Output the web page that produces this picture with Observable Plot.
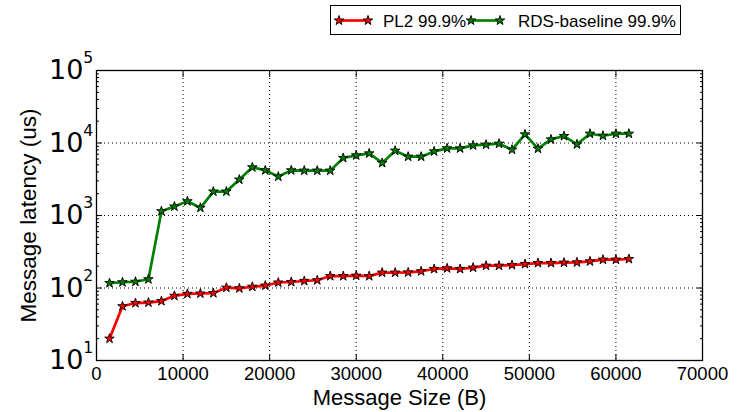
<!DOCTYPE html>
<html><head><meta charset="utf-8">
<script src="https://cdn.jsdelivr.net/npm/d3@7"></script>
<script src="https://cdn.jsdelivr.net/npm/@observablehq/plot@0.6"></script>
<style>
body{margin:0;background:#fff;}
#wrap{position:relative;width:741px;height:412px;font-family:"Liberation Sans",Arial,Helvetica,sans-serif;}
#legend{position:absolute;left:330px;top:5px;}
</style></head><body>
<div id="wrap"><div id="chart"></div><svg id="legend" width="352" height="31"></svg></div>
<script>
// Message sizes (B)
const sizes = [1500, 3000, 4500, 6000, 7500, 9000, 10500, 12000, 13500, 15000,
  16500, 18000, 19500, 21000, 22500, 24000, 25500, 27000, 28500, 30000,
  31500, 33000, 34500, 36000, 37500, 39000, 40500, 42000, 43500, 45000,
  46500, 48000, 49500, 51000, 52500, 54000, 55500, 57000, 58500, 60000, 61500];
// PL2 99.9% latency (us)
const pl2 = [20, 56, 62, 63, 66, 78, 83, 84, 85, 101,
  99, 104, 108, 119, 121, 125, 128, 146, 146, 148,
  146, 163, 163, 164, 170, 183, 187, 183, 191, 203,
  203, 207, 214, 221, 221, 224, 226, 233, 246, 246, 251];
// RDS-baseline 99.9% latency (us)
const rds = [117, 120, 122, 132, 1146, 1330, 1573, 1276, 2140, 2140,
  3128, 4616, 4200, 3440, 4200, 4160, 4160, 4160, 6220, 6750,
  7190, 5305, 7840, 6480, 6480, 7660, 8430, 8430, 9270, 9480,
  9780, 8090, 13130, 8350, 11210, 12480, 9570, 13430, 12600, 13430, 13430];
const seriesNames = ["PL2 99.9%", "RDS-baseline 99.9%"];
const seriesColors = ["#ff0000", "#008000"];
const xTicks = [0, 10000, 20000, 30000, 40000, 50000, 60000, 70000];
const yTicks = [10, 100, 1000, 10000, 100000];
const yMinor = [20,30,40,50,60,70,80,90,200,300,400,500,600,700,800,900,
  2000,3000,4000,5000,6000,7000,8000,9000,20000,30000,40000,50000,60000,70000,80000,90000];
const xTitle = "Message Size (B)";
const yTitle = "Message latency (us)";

const rows = [];
[pl2, rds].forEach((vals, s) => vals.forEach((v, i) => rows.push({size: sizes[i], latency: v, series: seriesNames[s]})));

const starR = 3.0;
const gridStyle = {stroke: "black", strokeOpacity: 1, strokeWidth: 1, strokeDasharray: "1,3"};
const chart = Plot.plot({
  width: 741, height: 412,
  marginLeft: 96, marginRight: 39, marginTop: 70, marginBottom: 52,
  x: {domain: [0, 70000]},
  y: {type: "log", domain: [10, 100000]},
  color: {domain: seriesNames, range: seriesColors},
  style: {fontFamily: "'Liberation Sans', Arial, sans-serif", fontSize: "18.5px", background: "white", color: "black"},
  marks: [
    Plot.gridX(xTicks.slice(1, -1), gridStyle),
    Plot.gridY(yTicks.slice(1, -1), gridStyle),
    Plot.line(rows, {x: "size", y: "latency", z: "series", stroke: "series", strokeWidth: 2.7}),
    Plot.dot(rows, {x: "size", y: "latency", fill: "series", symbol: "star", r: starR, stroke: "black", strokeWidth: 0.9}),
    Plot.frame({stroke: "black", strokeWidth: 1.3}),
    Plot.axisX(xTicks, {anchor: "bottom", tickSize: -6, tickPadding: 12.8, tickFormat: d => String(d), label: null}),
    Plot.axisX(xTicks, {anchor: "top", tickSize: -6, tickFormat: () => "", label: null}),
    Plot.axisY(yTicks, {anchor: "left", tickSize: -6, tickPadding: 9.2, tickFormat: d => "10^" + Math.round(Math.log10(d)), label: null, fontSize: 27}),
    Plot.axisY(yTicks, {anchor: "right", tickSize: -6, tickFormat: () => "", label: null}),
    Plot.axisY(yMinor, {anchor: "left", tickSize: -3, tickFormat: () => "", label: null}),
    Plot.axisY(yMinor, {anchor: "right", tickSize: -3, tickFormat: () => "", label: null}),
    Plot.text([xTitle], {frameAnchor: "bottom", dy: 37.5, text: d => d, fontSize: 22, lineAnchor: "middle", textAnchor: "middle"}),
    Plot.text([yTitle], {frameAnchor: "left", dx: -68, rotate: -90, text: d => d, fontSize: 22.5, lineAnchor: "middle", textAnchor: "middle"})
  ]
});
document.getElementById("chart").appendChild(chart);

// superscript exponents for the log tick labels
const ns = "http://www.w3.org/2000/svg";
chart.querySelectorAll('g[aria-label="y-axis tick label"] text').forEach(t => {
  const m = (t.textContent || "").match(/^10\^(\d+)$/);
  if (!m) return;
  t.textContent = "";
  t.setAttribute("font-family", "'DejaVu Sans', sans-serif");
  const a = document.createElementNS(ns, "tspan"); a.textContent = "10"; t.appendChild(a);
  const b = document.createElementNS(ns, "tspan"); b.textContent = m[1];
  b.setAttribute("font-size", "0.58em"); b.setAttribute("dy", "-1.0em"); t.appendChild(b);
});

// legend
const lg = d3.select("#legend");
lg.append("rect").attr("x", 0.5).attr("y", 0.5).attr("width", 350).attr("height", 29)
  .attr("fill", "white").attr("stroke", "black").attr("stroke-width", 1);
const star = d3.symbol(d3.symbolStar, starR * starR * Math.PI)();
const items = [{x0: 9, tx: 53}, {x0: 141, tx: 188}];
items.forEach((it, i) => {
  const g = lg.append("g");
  g.append("line").attr("x1", it.x0).attr("x2", it.x0 + 29).attr("y1", 15.5).attr("y2", 15.5)
    .attr("stroke", seriesColors[i]).attr("stroke-width", 2.7);
  [it.x0, it.x0 + 29].forEach(px => g.append("path").attr("d", star)
    .attr("transform", `translate(${px},15.5)`).attr("fill", seriesColors[i])
    .attr("stroke", "black").attr("stroke-width", 0.9));
  g.append("text").attr("x", it.tx).attr("y", 21.7).attr("font-size", 17)
    .attr("font-family", "'Liberation Sans', Arial, sans-serif").text(seriesNames[i]);
});
</script>
</body></html>
